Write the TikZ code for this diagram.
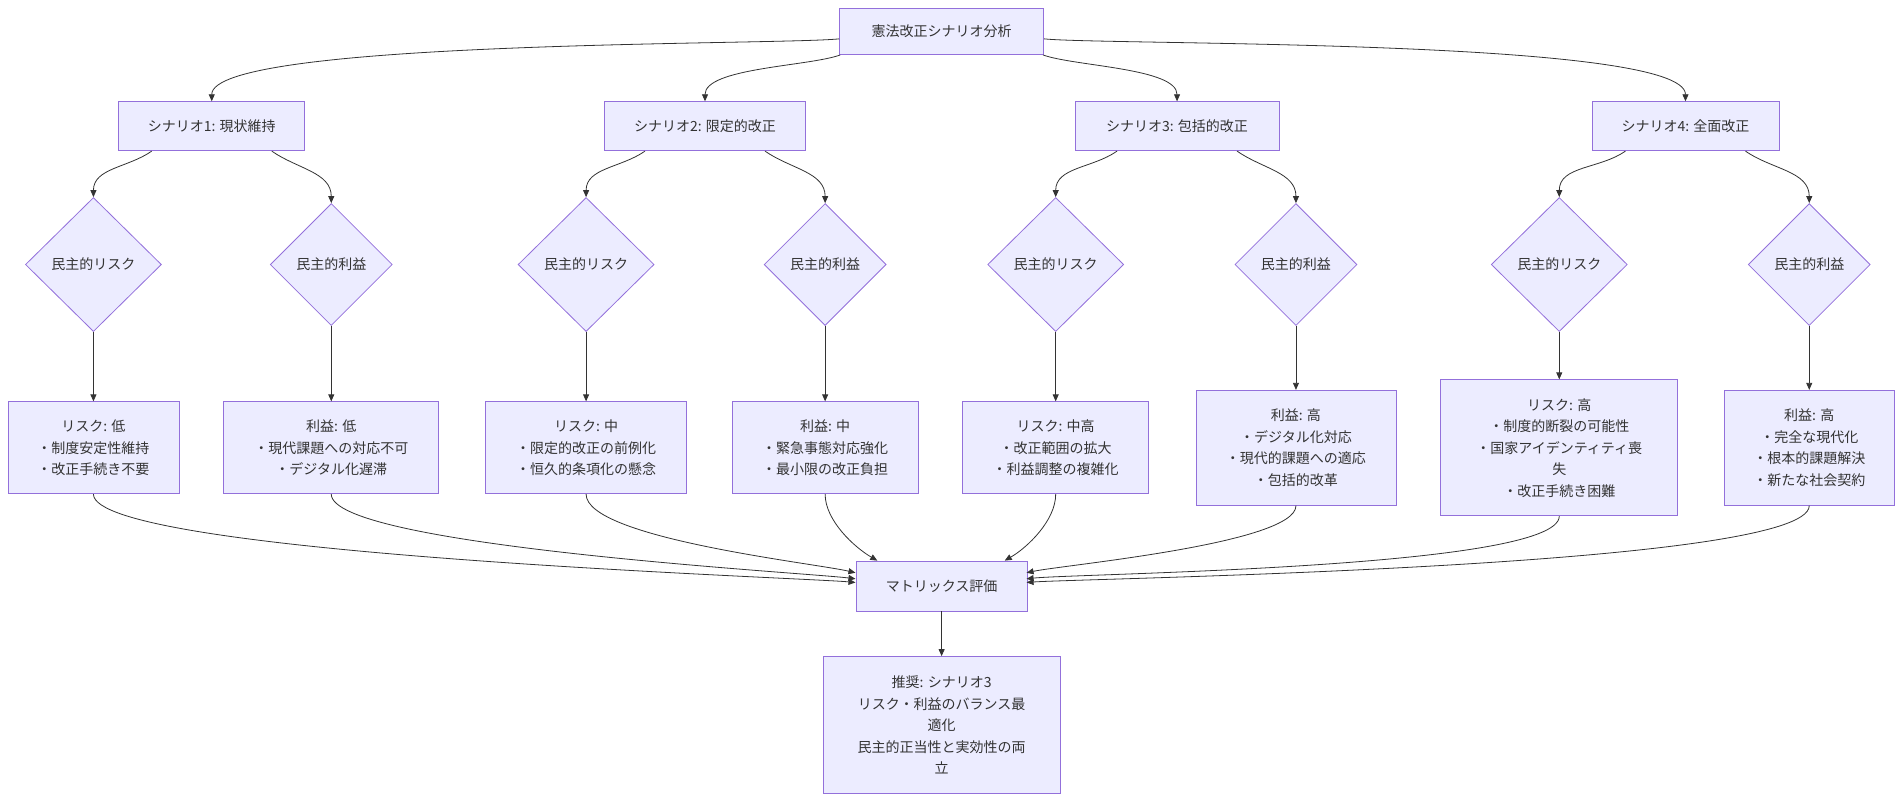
\documentclass[tikz,border=0pt]{standalone}
\usepackage{fontspec}
\setmainfont{Noto Sans CJK JP}
\usetikzlibrary{shapes.geometric,arrows.meta}
\definecolor{nfill}{HTML}{ECECFF}
\definecolor{nline}{HTML}{9370DB}
\definecolor{ink}{HTML}{333333}
\begin{document}
\begin{tikzpicture}[x=1.2134pt,y=-1.2134pt,
  every node/.style={text=ink,font=\fontsize{14pt}{21.5pt}\selectfont},
  box/.style={draw=nline,fill=nfill,line width=0.8pt,align=center,inner sep=2pt},
  dia/.style={draw=nline,fill=nfill,line width=0.8pt,diamond,inner sep=0pt,aspect=1},
  arr/.style={draw=ink,line width=0.8pt,-{Triangle[length=7pt,width=6pt]}}]
\useasboundingbox (0,0) rectangle (1569.1,660.1);
\node[box,minimum width=204pt,minimum height=46pt] (top) at (776,26) {憲法改正シナリオ分析};
\node[box,minimum width=186pt,minimum height=49pt] (s1) at (174.5,104) {シナリオ1: 現状維持};
\node[box,minimum width=201pt,minimum height=49pt] (s2) at (581,104) {シナリオ2: 限定的改正};
\node[box,minimum width=204pt,minimum height=49pt] (s3) at (970,104) {シナリオ3: 包括的改正};
\node[box,minimum width=187pt,minimum height=49pt] (s4) at (1389,104) {シナリオ4: 全面改正};
\foreach \n/\x/\t in {d1/77/r,d2/273/b,d3/483/r,d4/680/b,d5/870/r,d6/1068/b,d7/1285/r,d8/1491/b}{
  \if\t r
    \node[dia,minimum width=136pt,minimum height=134pt] (\n) at (\x,218) {民主的リスク};
  \else
    \node[dia,minimum width=122pt,minimum height=122pt] (\n) at (\x,218) {民主的利益};
  \fi}
\node[box,minimum width=171pt,minimum height=92pt] (r1) at (77,369) {リスク: 低\\・制度安定性維持\\・改正手続き不要};
\node[box,minimum width=215pt,minimum height=92pt] (r2) at (273,369) {利益: 低\\・現代課題への対応不可\\・デジタル化遅滞};
\node[box,minimum width=201pt,minimum height=92pt] (r3) at (483,369) {リスク: 中\\・限定的改正の前例化\\・恒久的条項化の懸念};
\node[box,minimum width=186pt,minimum height=92pt] (r4) at (680,369) {利益: 中\\・緊急事態対応強化\\・最小限の改正負担};
\node[box,minimum width=186pt,minimum height=92pt] (r5) at (870,369) {リスク: 中高\\・改正範囲の拡大\\・利益調整の複雑化};
\node[box,minimum width=200pt,minimum height=115pt] (r6) at (1068,369) {利益: 高\\・デジタル化対応\\・現代的課題への適応\\・包括的改革};
\node[box,minimum width=237pt,minimum height=136pt] (r7) at (1285,369) {リスク: 高\\・制度的断裂の可能性\\・国家アイデンティティ喪\\失\\・改正手続き困難};
\node[box,minimum width=170pt,minimum height=115pt] (r8) at (1491,369) {利益: 高\\・完全な現代化\\・根本的課題解決\\・新たな社会契約};
\node[box,minimum width=171pt,minimum height=50pt] (mat) at (776,483) {マトリックス評価};
\node[box,minimum width=237pt,minimum height=137pt] (fin) at (776,597.5) {推奨: シナリオ3\\リスク・利益のバランス最\\適化\\民主的正当性と実効性の両\\立};
% top to scenarios
\draw[arr] ([yshift=-7.3pt]top.west) to[out=186,in=90,looseness=0.25] (s1.north);
\draw[arr] ([xshift=1pt]top.south west) to[out=200,in=90,looseness=0.6] (s2.north);
\draw[arr] ([xshift=-1pt]top.south east) to[out=-20,in=90,looseness=0.6] (s3.north);
\draw[arr] ([yshift=-7.3pt]top.east) to[out=-6,in=90,looseness=0.25] (s4.north);
% scenarios to diamonds
\foreach \s/\a/\b in {s1/d1/d2,s2/d3/d4,s3/d5/d6,s4/d7/d8}{
  \draw[arr] ([xshift=-60pt]\s.south) to[out=-145,in=90] (\a.north);
  \draw[arr] ([xshift=60pt]\s.south) to[out=-35,in=90] (\b.north);}
% diamonds to results
\foreach \a/\b in {d1/r1,d2/r2,d3/r3,d4/r4,d5/r5,d6/r6,d7/r7,d8/r8}{\draw[arr] (\a.south) -- (\b.north);}
% results to matrix
\coordinate (w1) at (705,472); \coordinate (w2) at (705,477); \coordinate (w3) at (705,480);
\coordinate (e1) at (846,472); \coordinate (e2) at (846,477); \coordinate (e3) at (846,480);
\coordinate (t4) at (723,462); \coordinate (t5) at (828,462);
\draw[arr] (r1.south) to[out=-90,in=175,looseness=0.2] (w3);
\draw[arr] (r2.south) to[out=-90,in=173,looseness=0.25] (w2);
\draw[arr] (r3.south) to[out=-90,in=167,looseness=0.4] (w1);
\draw[arr] (r4.south) to[out=-90,in=150,looseness=0.8] (t4);
\draw[arr] (r5.south) to[out=-90,in=30,looseness=0.8] (t5);
\draw[arr] (r6.south) to[out=-90,in=12,looseness=0.35] (e1);
\draw[arr] (r7.south) to[out=-90,in=6,looseness=0.25] (e2);
\draw[arr] (r8.south) to[out=-90,in=4,looseness=0.2] (e3);
\draw[arr] (mat.south) -- (fin.north);
\end{tikzpicture}
\end{document}
